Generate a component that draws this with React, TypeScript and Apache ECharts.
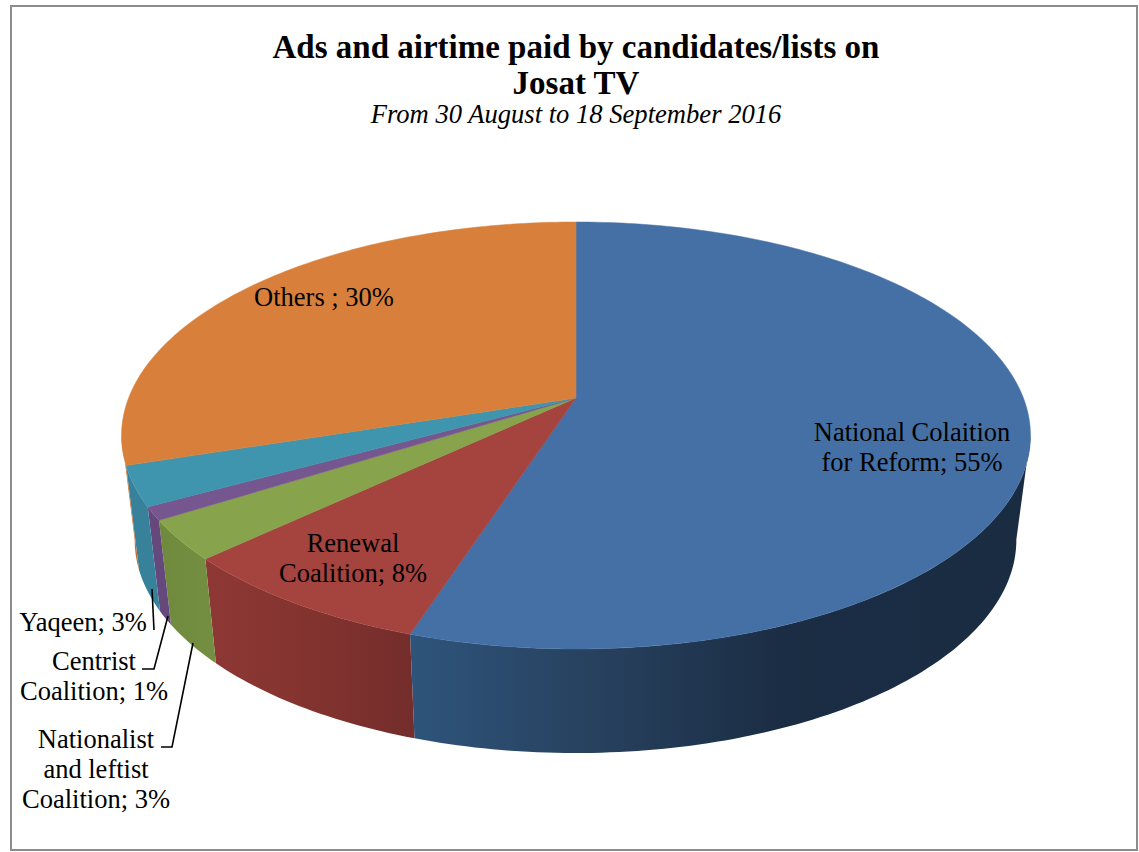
import React, { useEffect, useRef } from "react";
import * as echarts from "echarts";

// Campaign share per list, clockwise from twelve o'clock
const listNames = [
  "National Colaition for Reform",
  "Renewal Coalition",
  "Nationalist and leftist Coalition",
  "Centrist Coalition",
  "Yaqeen",
  "Others",
];
const shares = [55, 8, 3, 1, 3, 30];

const topColors = ["#4570A6", "#A5433F", "#87A34C", "#76568F", "#3F95AE", "#D8803B"];
const wallColors: [number, string][][] = [
  [[0, "#2E547B"], [0.3, "#27415E"], [0.6, "#1B2D44"], [1, "#1A2C42"]],
  [[0, "#8E3835"], [0.5, "#83332F"], [1, "#732D2B"]],
  [[0, "#6F8A3D"], [1, "#748F41"]],
  [[0, "#66497C"], [1, "#66497C"]],
  [[0, "#37819A"], [1, "#37819A"]],
  [[0, "#BD6E32"], [1, "#BD6E32"]],
];

const titleLines = ["Ads and airtime paid by candidates/lists on", "Josat TV"];
const subtitle = "From 30 August to 18 September 2016";

const sliceLabels = [
  { lines: ["National Colaition", "for Reform; 55%"], x: 912, y: 432 },
  { lines: ["Renewal", "Coalition; 8%"], x: 353, y: 543 },
  { lines: ["Nationalist", "and leftist", "Coalition; 3%"], x: 96, y: 739 },
  { lines: ["Centrist", "Coalition; 1%"], x: 94, y: 661 },
  { lines: ["Yaqeen; 3%"], x: 83, y: 622 },
  { lines: ["Others ; 30%"], x: 324, y: 297 },
];
const labelLineHeight = 30;
const labelFont = "'Liberation Serif', serif";

const leaders = [
  [[152, 589], [154, 630]],
  [[168, 616], [154, 669], [142, 669]],
  [[193, 643], [172, 747], [161, 747]],
];

// Perspective projection of the unit disc: one plane for the top face, one for the base
const topPlane = { cx: 576, c: 447.4, a: 137, b: 398, p: -0.1756 };
const basePlane = { cx: 575.5, c: 434, a: 118.2, b: 502.6, p: -0.1756 };
type Plane = typeof topPlane;

const project = (plane: Plane, deg: number): number[] => {
  const t = (deg * Math.PI) / 180;
  const u = Math.sin(t);
  const v = -Math.cos(t);
  const d = 1 + plane.p * v;
  return [plane.cx + (plane.c * u) / d, (plane.a * v + plane.b) / d];
};

const total = shares.reduce((s, v) => s + v, 0);
const startAngle = (i: number) =>
  (shares.slice(0, i).reduce((s, v) => s + v, 0) / total) * 360;
const endAngle = (i: number) => startAngle(i) + (shares[i] / total) * 360;

const arc = (plane: Plane, from: number, to: number): number[][] => {
  const n = Math.max(2, Math.ceil(Math.abs(to - from)));
  const pts: number[][] = [];
  for (let k = 0; k <= n; k++) pts.push(project(plane, from + ((to - from) * k) / n));
  return pts;
};

// The rim's silhouette runs between these two bearings, where both ellipses are widest
const wallFrom = 100;
const wallTo = 260;

const renderWall = (params: any) => {
  const i = params.dataIndex;
  const from = Math.max(startAngle(i), wallFrom);
  const to = Math.min(endAngle(i), wallTo);
  if (to <= from) return { type: "group", children: [] };
  const points = [...arc(topPlane, from, to), ...arc(basePlane, from, to).reverse()];
  return {
    type: "polygon",
    shape: { points },
    style: {
      fill: new echarts.graphic.LinearGradient(
        0, 0, 1, 0,
        wallColors[i].map(([offset, color]) => ({ offset, color }))
      ),
    },
  };
};

const renderTop = (params: any) => {
  const i = params.dataIndex;
  const apex = [topPlane.cx, topPlane.b];
  const points = [apex, ...arc(topPlane, startAngle(i), endAngle(i))];
  return {
    type: "polygon",
    shape: { points },
    style: { fill: topColors[i], stroke: topColors[i], lineWidth: 0.5 },
  };
};

export default function App() {
  const ref = useRef<HTMLDivElement>(null);
  useEffect(() => {
    const chart = echarts.init(ref.current!, undefined, { renderer: "svg" });
    chart.setOption({
      animation: false,
      backgroundColor: "#fff",
      series: [
        {
          type: "custom",
          name: "walls",
          coordinateSystem: "none",
          silent: true,
          renderItem: renderWall,
          data: shares.map((v, i) => ({ name: listNames[i], value: v })),
        },
        {
          type: "custom",
          name: "faces",
          coordinateSystem: "none",
          silent: true,
          renderItem: renderTop,
          data: shares.map((v, i) => ({ name: listNames[i], value: v })),
        },
      ],
      graphic: [
        {
          type: "rect",
          silent: true,
          z: -1,
          shape: { x: 11, y: 6, width: 1126, height: 844 },
          style: { fill: "none", stroke: "#8C8C8C", lineWidth: 2 },
        },
        ...titleLines.map((text, k) => ({
          type: "text",
          silent: true,
          x: 576,
          y: 47 + k * 36,
          style: {
            text,
            fontFamily: labelFont,
            fontSize: 33,
            fontWeight: "bold",
            fill: "#000",
            align: "center",
            verticalAlign: "middle",
          },
        })),
        {
          type: "text",
          silent: true,
          x: 576,
          y: 114,
          style: {
            text: subtitle,
            fontFamily: labelFont,
            fontSize: 26.6,
            fontStyle: "italic",
            fill: "#000",
            align: "center",
            verticalAlign: "middle",
          },
        },
        ...sliceLabels.flatMap((label) =>
          label.lines.map((text, k) => ({
            type: "text",
            silent: true,
            z: 10,
            x: label.x,
            y: label.y + k * labelLineHeight,
            style: {
              text,
              fontFamily: labelFont,
              fontSize: 26.5,
              fill: "#000",
              align: "center",
              verticalAlign: "middle",
            },
          }))
        ),
        ...leaders.map((points) => ({
          type: "polyline",
          silent: true,
          z: 10,
          shape: { points },
          style: { fill: "none", stroke: "#000", lineWidth: 1.6 },
        })),
      ],
    });
    return () => chart.dispose();
  }, []);
  return (
    <div
      ref={ref}
      style={{ position: "fixed", left: 0, top: 0, width: 1139, height: 852 }}
    />
  );
}
